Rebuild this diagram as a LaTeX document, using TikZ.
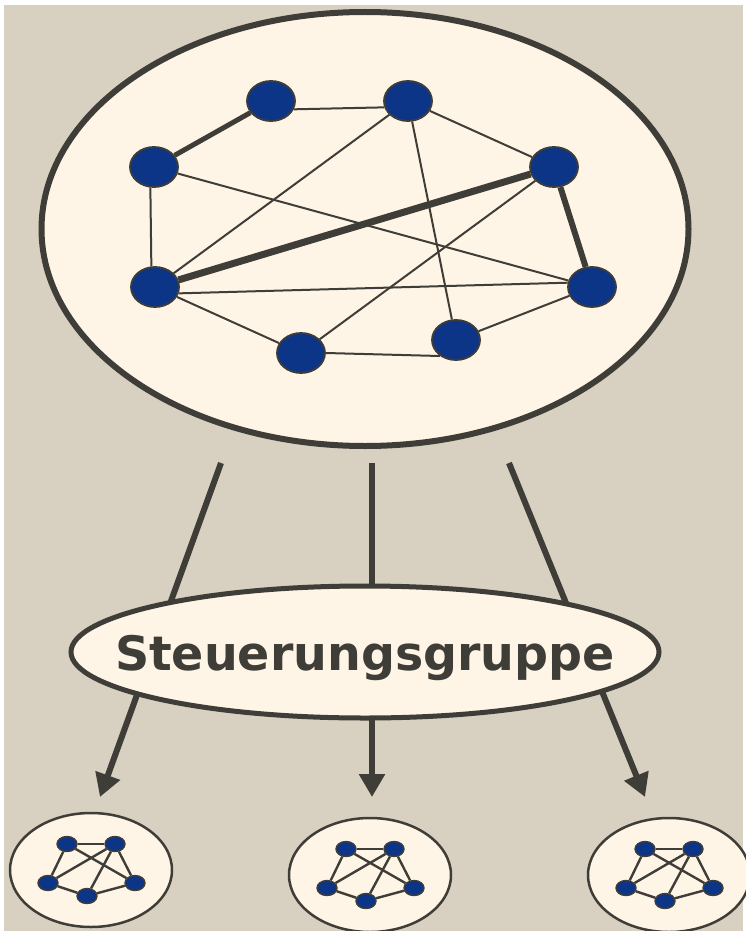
\documentclass[tikz,border=0pt]{standalone}
\usepackage{fontspec}
\setmainfont{DejaVu Sans}
\usetikzlibrary{arrows.meta, shapes.geometric, positioning}
\definecolor{sand}{HTML}{D8D1C2}
\definecolor{cream}{HTML}{FFF5E6}
\definecolor{navy}{HTML}{0C3588}
\definecolor{slate}{HTML}{3F3D37}
\tikzset{
  member/.style = {ellipse, draw=slate, line width=1.8pt, fill=navy, minimum width=48pt, minimum height=40pt, inner sep=0pt},
  tiny/.style = {ellipse, draw=slate, line width=1.4pt, fill=navy, minimum width=20pt, minimum height=15pt, inner sep=0pt},
  group/.style = {ellipse, draw=slate, fill=cream, inner sep=0pt},
  link/.style = {draw=slate, line width=2pt},
  flow/.style = {draw=slate, line width=6pt, -{Triangle[length=23pt, width=25pt]}}
}

\begin{document}
\begin{tikzpicture}[x=1pt, y=-1pt]

  % Background
  \useasboundingbox (0,0) rectangle (746,931);
  \fill[white] (0,0) rectangle (746,931);
  \fill[sand] (4,5) rectangle (743,931);

  % Large group
  \node[group, line width=6pt, minimum width=647pt, minimum height=434pt] (team) at (365,229) {};

  % Members
  \node[member] (m1) at (271,101) {};
  \node[member] (m2) at (408,101) {};
  \node[member] (m3) at (154,167) {};
  \node[member] (m4) at (554,167) {};
  \node[member] (m5) at (155,287) {};
  \node[member] (m6) at (592,287) {};
  \node[member] (m7) at (301,353) {};
  \node[member] (m8) at (456,340) {};

  % Links
  \draw[link] (m1.-20) -- (m2.195);
  \draw[link, line width=5pt] (m1) -- (m3);
  \draw[link] (m2) -- (m4);
  \draw[link] (m2) -- (m5);
  \draw[link] (m2) -- (m8);
  \draw[link] (m3.-100) -- (m5.100);
  \draw[link] (m3) -- (m6);
  \draw[link, line width=7pt] (m4) -- (m5);
  \draw[link, line width=6pt] (m4) -- (m6);
  \draw[link] (m4) -- (m7);
  \draw[link] (m5.-15) -- (m6.170);
  \draw[link] (m5) -- (m7);
  \draw[link] (m7.east) -- (m8.-135);
  \draw[link] (m8) -- (m6);

  % Delegation
  \coordinate (left top) at (221,463);
  \coordinate (left end) at (100,797);
  \coordinate (mid top) at (372,463);
  \coordinate (mid end) at (372,797);
  \coordinate (right top) at (509,463);
  \coordinate (right end) at (645,797);
  \draw[flow] (left top) -- (left end);
  \draw[flow] (mid top) -- (mid end);
  \draw[flow] (right top) -- (right end);

  % Steering group
  \node[group, line width=5pt, minimum width=588pt, minimum height=132pt] (steer) at (365,652) {};
  \node[text=slate, font=\bfseries\fontsize{47.5pt}{52pt}\selectfont, yshift=-6pt] (steer label) at (steer.center) {Steuerungsgruppe};

  % Sub groups
  \foreach \cx/\cy/\g in {91/870/a, 370/875/b, 669/875/c} {
    \node[group, line width=2.5pt, minimum width=162pt, minimum height=114pt] (\g) at (\cx,\cy) {};
    \node[tiny] (\g1) at (\cx-24,\cy-26) {};
    \node[tiny] (\g2) at (\cx+24,\cy-26) {};
    \node[tiny] (\g3) at (\cx-43,\cy+13) {};
    \node[tiny] (\g4) at (\cx+44,\cy+13) {};
    \node[tiny] (\g5) at (\cx-4,\cy+26) {};
    \draw[link, line width=2.4pt] (\g1) -- (\g2);
    \draw[link, line width=2.4pt] (\g1) -- (\g3);
    \draw[link, line width=2.4pt] (\g1) -- (\g4);
    \draw[link, line width=2.4pt] (\g2) -- (\g3);
    \draw[link, line width=2.4pt] (\g2) -- (\g5);
    \draw[link, line width=2.4pt] (\g2) -- (\g4);
    \draw[link, line width=2.4pt] (\g3) -- (\g5);
    \draw[link, line width=2.4pt] (\g5) -- (\g4);
  }

\end{tikzpicture}
\end{document}
